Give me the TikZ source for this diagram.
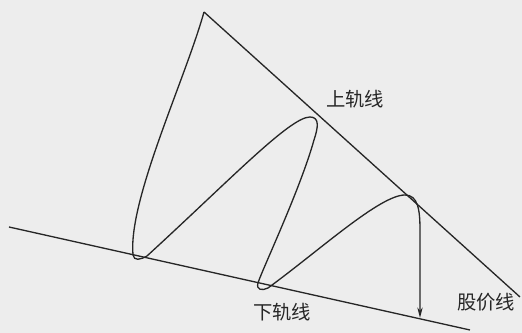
\documentclass[tikz,border=0pt]{standalone}
\usepackage{fontspec}
\setmainfont{Noto Sans CJK SC}
\usetikzlibrary{arrows.meta}

\begin{document}
\begin{tikzpicture}[x=0.02cm, y=-0.02cm,
    railline/.style={line width=0.75pt, black!85},
    priceline/.style={line width=0.75pt, black!85},
    raillabel/.style={font=\fontsize{11pt}{13pt}\selectfont, black!85}]
    % Frame and background
    \fill[black!7] (0,0) rectangle (522,333);
    \useasboundingbox (0,0) rectangle (522,333);

    % Rail end points
    \coordinate (apex) at (204,12);
    \coordinate (upperend) at (520,297);
    \coordinate (lowerstart) at (9,227);
    \coordinate (lowerend) at (470,330);
    \coordinate (tip) at (420,318);

    % Upper and lower rails
    \draw[railline] (apex) -- (upperend);
    \draw[railline] (lowerstart) -- (lowerend);

    % Price curve bouncing between the rails
    \draw[priceline, -{Stealth[length=6pt, width=3pt]}] (apex)
        .. controls (185,80) and (128,200) .. (133,255)
        .. controls (134,261) and (140,260) .. (147,256)
        .. controls (230,180) and (290,117) .. (310,117)
        .. controls (320,117) and (318,128) .. (314,140)
        .. controls (300,190) and (262,270) .. (258,283)
        .. controls (256,290) and (262,291) .. (268,288)
        .. controls (320,250) and (380,195) .. (405,195)
        .. controls (418,195) and (420,210) .. (420,230)
        -- (tip);

    % Labels
    \node[raillabel] (upperlabel) at (355,99) {上轨线};
    \node[raillabel] (lowerlabel) at (282,312) {下轨线};
    \node[raillabel] (pricelabel) at (486,302) {股价线};
\end{tikzpicture}
\end{document}
